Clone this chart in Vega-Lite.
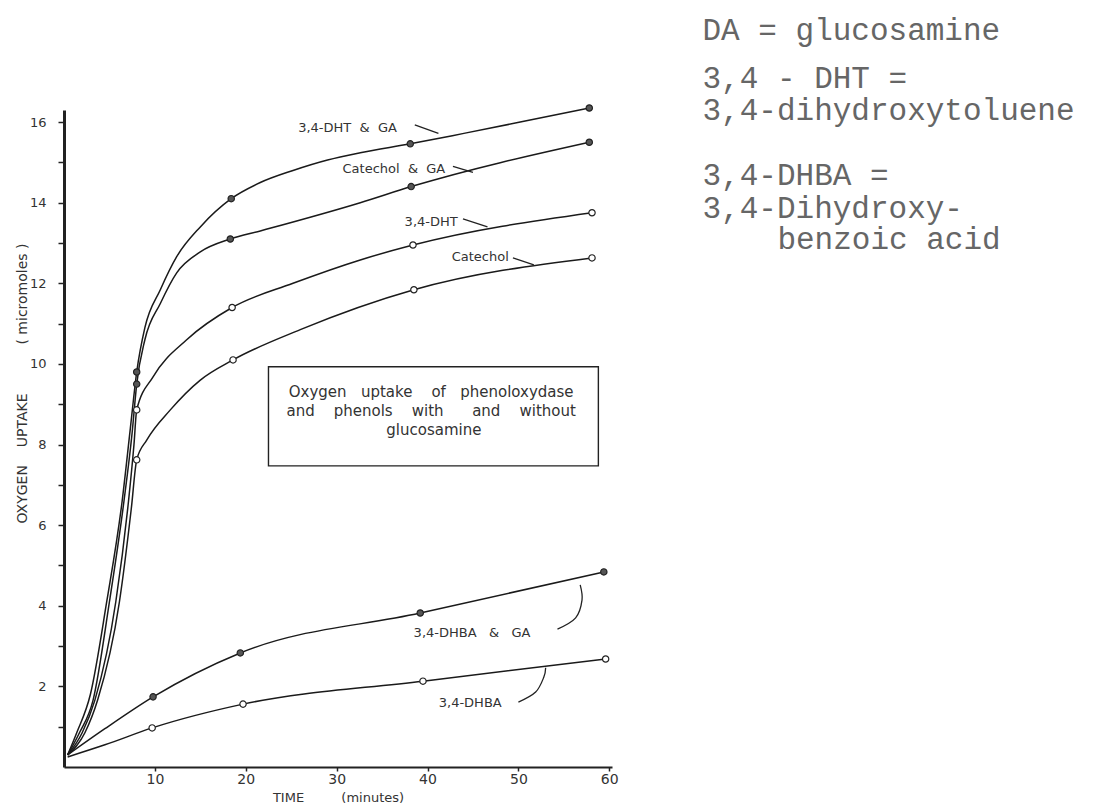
{
  "$schema": "https://vega.github.io/schema/vega-lite/v6.json",
  "width": 548,
  "height": 657,
  "autosize": {"type": "none"},
  "padding": {"left": 64, "top": 110, "right": 488, "bottom": 38},
  "background": "#ffffff",
  "config": {"view": {"stroke": null}, "axis": {"grid": false}},
  "datasets": {
    "curves": [
      {"s": "DHT_GA", "t": 0.4, "v": 0.3}, {"s": "DHT_GA", "t": 1.4, "v": 0.85}, {"s": "DHT_GA", "t": 2.9, "v": 1.8}, {"s": "DHT_GA", "t": 4.7, "v": 4.1}, {"s": "DHT_GA", "t": 6.4, "v": 6.6}, {"s": "DHT_GA", "t": 7.3, "v": 8.4}, {"s": "DHT_GA", "t": 8, "v": 9.8}, {"s": "DHT_GA", "t": 8.9, "v": 10.9}, {"s": "DHT_GA", "t": 10.6, "v": 11.84}, {"s": "DHT_GA", "t": 12.4, "v": 12.66}, {"s": "DHT_GA", "t": 15, "v": 13.4}, {"s": "DHT_GA", "t": 18.4, "v": 14.1}, {"s": "DHT_GA", "t": 21.6, "v": 14.5}, {"s": "DHT_GA", "t": 25.2, "v": 14.8}, {"s": "DHT_GA", "t": 29, "v": 15.06}, {"s": "DHT_GA", "t": 32.6, "v": 15.24}, {"s": "DHT_GA", "t": 38.1, "v": 15.46}, {"s": "DHT_GA", "t": 44, "v": 15.72}, {"s": "DHT_GA", "t": 50.2, "v": 16.0}, {"s": "DHT_GA", "t": 57.8, "v": 16.35},
      {"s": "CAT_GA", "t": 0.4, "v": 0.3}, {"s": "CAT_GA", "t": 1.7, "v": 0.85}, {"s": "CAT_GA", "t": 3.2, "v": 1.66}, {"s": "CAT_GA", "t": 5.0, "v": 4.1}, {"s": "CAT_GA", "t": 6.6, "v": 6.6}, {"s": "CAT_GA", "t": 7.5, "v": 8.3}, {"s": "CAT_GA", "t": 8, "v": 9.5}, {"s": "CAT_GA", "t": 8.9, "v": 10.6}, {"s": "CAT_GA", "t": 10.6, "v": 11.5}, {"s": "CAT_GA", "t": 12.4, "v": 12.26}, {"s": "CAT_GA", "t": 15, "v": 12.78}, {"s": "CAT_GA", "t": 18.3, "v": 13.1}, {"s": "CAT_GA", "t": 21.6, "v": 13.3}, {"s": "CAT_GA", "t": 32.6, "v": 14.0}, {"s": "CAT_GA", "t": 38.2, "v": 14.4}, {"s": "CAT_GA", "t": 57.8, "v": 15.5},
      {"s": "DHT", "t": 0.4, "v": 0.3}, {"s": "DHT", "t": 2.0, "v": 0.85}, {"s": "DHT", "t": 3.4, "v": 1.66}, {"s": "DHT", "t": 5.7, "v": 4.1}, {"s": "DHT", "t": 7.1, "v": 6.6}, {"s": "DHT", "t": 7.7, "v": 8.0}, {"s": "DHT", "t": 8, "v": 8.86}, {"s": "DHT", "t": 9.8, "v": 9.68}, {"s": "DHT", "t": 13.5, "v": 10.6}, {"s": "DHT", "t": 18.5, "v": 11.4}, {"s": "DHT", "t": 25.2, "v": 12.0}, {"s": "DHT", "t": 32.6, "v": 12.58}, {"s": "DHT", "t": 38.4, "v": 12.95}, {"s": "DHT", "t": 58.1, "v": 13.75},
      {"s": "CAT", "t": 0.4, "v": 0.3}, {"s": "CAT", "t": 2.3, "v": 0.85}, {"s": "CAT", "t": 3.7, "v": 1.66}, {"s": "CAT", "t": 6.1, "v": 4.1}, {"s": "CAT", "t": 7.4, "v": 6.4}, {"s": "CAT", "t": 8, "v": 7.62}, {"s": "CAT", "t": 9.1, "v": 8.11}, {"s": "CAT", "t": 11.7, "v": 8.86}, {"s": "CAT", "t": 15, "v": 9.6}, {"s": "CAT", "t": 18.6, "v": 10.1}, {"s": "CAT", "t": 26, "v": 10.85}, {"s": "CAT", "t": 38.5, "v": 11.84}, {"s": "CAT", "t": 58.1, "v": 12.63},
      {"s": "DHBA_GA", "t": 0.4, "v": 0.3}, {"s": "DHBA_GA", "t": 4.5, "v": 0.95}, {"s": "DHBA_GA", "t": 9.8, "v": 1.74}, {"s": "DHBA_GA", "t": 19.4, "v": 2.83}, {"s": "DHBA_GA", "t": 39.2, "v": 3.82}, {"s": "DHBA_GA", "t": 59.4, "v": 4.84},
      {"s": "DHBA", "t": 0.4, "v": 0.25}, {"s": "DHBA", "t": 4.5, "v": 0.55}, {"s": "DHBA", "t": 9.7, "v": 0.97}, {"s": "DHBA", "t": 19.7, "v": 1.56}, {"s": "DHBA", "t": 39.5, "v": 2.13}, {"s": "DHBA", "t": 59.6, "v": 2.68}
    ],
    "markers": [
      {"s": "DHT_GA", "k": "filled", "t": 8, "v": 9.8}, {"s": "DHT_GA", "k": "filled", "t": 18.4, "v": 14.1}, {"s": "DHT_GA", "k": "filled", "t": 38.1, "v": 15.46}, {"s": "DHT_GA", "k": "filled", "t": 57.8, "v": 16.35},
      {"s": "CAT_GA", "k": "filled", "t": 8, "v": 9.5}, {"s": "CAT_GA", "k": "filled", "t": 18.3, "v": 13.1}, {"s": "CAT_GA", "k": "filled", "t": 38.2, "v": 14.4}, {"s": "CAT_GA", "k": "filled", "t": 57.8, "v": 15.5},
      {"s": "DHT", "k": "open", "t": 8, "v": 8.86}, {"s": "DHT", "k": "open", "t": 18.5, "v": 11.4}, {"s": "DHT", "k": "open", "t": 38.4, "v": 12.95}, {"s": "DHT", "k": "open", "t": 58.1, "v": 13.75},
      {"s": "CAT", "k": "open", "t": 8, "v": 7.62}, {"s": "CAT", "k": "open", "t": 18.6, "v": 10.1}, {"s": "CAT", "k": "open", "t": 38.5, "v": 11.84}, {"s": "CAT", "k": "open", "t": 58.1, "v": 12.63},
      {"s": "DHBA_GA", "k": "filled", "t": 9.8, "v": 1.74}, {"s": "DHBA_GA", "k": "filled", "t": 19.4, "v": 2.83}, {"s": "DHBA_GA", "k": "filled", "t": 39.2, "v": 3.82}, {"s": "DHBA_GA", "k": "filled", "t": 59.4, "v": 4.84},
      {"s": "DHBA", "k": "open", "t": 9.7, "v": 0.97}, {"s": "DHBA", "k": "open", "t": 19.7, "v": 1.56}, {"s": "DHBA", "k": "open", "t": 39.5, "v": 2.13}, {"s": "DHBA", "k": "open", "t": 59.6, "v": 2.68}
    ],
    "arrows": [
      {"id": "a1", "o": 1, "t": 38.6, "v": 15.93}, {"id": "a1", "o": 2, "t": 41.2, "v": 15.72},
      {"id": "a2", "o": 1, "t": 42.8, "v": 14.9}, {"id": "a2", "o": 2, "t": 45.0, "v": 14.75},
      {"id": "a3", "o": 1, "t": 43.9, "v": 13.6}, {"id": "a3", "o": 2, "t": 46.6, "v": 13.4},
      {"id": "a4", "o": 1, "t": 49.4, "v": 12.63}, {"id": "a4", "o": 2, "t": 51.7, "v": 12.46},
      {"id": "a5", "o": 1, "t": 54.3, "v": 3.42}, {"id": "a5", "o": 2, "t": 56.3, "v": 3.7}, {"id": "a5", "o": 3, "t": 57.0, "v": 4.14}, {"id": "a5", "o": 4, "t": 56.8, "v": 4.52},
      {"id": "a6", "o": 1, "t": 50.0, "v": 1.61}, {"id": "a6", "o": 2, "t": 51.9, "v": 1.86}, {"id": "a6", "o": 3, "t": 52.8, "v": 2.23}, {"id": "a6", "o": 4, "t": 53.0, "v": 2.46}
    ],
    "labels": [
      {"label": "3,4-DHT\u00a0\u00a0&\u00a0\u00a0GA", "t": 31.2, "v": 15.86},
      {"label": "Catechol\u00a0\u00a0&\u00a0\u00a0GA", "t": 36.3, "v": 14.84},
      {"label": "3,4-DHT", "t": 40.4, "v": 13.52},
      {"label": "Catechol", "t": 45.8, "v": 12.66},
      {"label": "3,4-DHBA\u00a0\u00a0\u00a0&\u00a0\u00a0\u00a0GA", "t": 44.9, "v": 3.33},
      {"label": "3,4-DHBA", "t": 44.7, "v": 1.59}
    ],
    "boxtext": [
      {"label": "Oxygen\u00a0\u00a0\u00a0uptake\u00a0\u00a0\u00a0\u00a0of\u00a0\u00a0\u00a0phenoloxydase", "t": 40.4, "v": 9.3},
      {"label": "and\u00a0\u00a0\u00a0\u00a0phenols\u00a0\u00a0\u00a0\u00a0with\u00a0\u00a0\u00a0\u00a0\u00a0\u00a0and\u00a0\u00a0\u00a0\u00a0without", "t": 40.4, "v": 8.83},
      {"label": "glucosamine", "t": 40.7, "v": 8.36}
    ],
    "box": [{"t": 22.5, "t2": 58.8, "v": 9.93, "v2": 7.47}],
    "notes": [
      {"label": "DA = glucosamine", "t": 70.26, "v": 18.04},
      {"label": "3,4 - DHT =", "t": 70.26, "v": 16.85},
      {"label": "3,4-dihydroxytoluene", "t": 70.26, "v": 16.05},
      {"label": "3,4-DHBA =", "t": 70.26, "v": 14.45},
      {"label": "3,4-Dihydroxy-", "t": 70.26, "v": 13.63},
      {"label": "benzoic acid", "t": 78.5, "v": 12.86}
    ]
  },
  "layer": [
    {
      "data": {"name": "box"},
      "mark": {"type": "rect", "fill": "#ffffff", "stroke": "#222222", "strokeWidth": 1.4},
      "encoding": {
        "x": {"field": "t", "type": "quantitative", "scale": {"domain": [0, 60.3], "nice": false, "zero": false},
          "axis": {"values": [10, 20, 30, 40, 50, 60], "tickSize": 4, "tickColor": "#222", "tickWidth": 1.5, "domainColor": "#222", "domainWidth": 2, "labelFont": "DejaVu Sans", "labelFontSize": 14, "labelColor": "#333", "labelPadding": 1,
            "title": "TIME\u00a0\u00a0\u00a0\u00a0\u00a0\u00a0\u00a0\u00a0\u00a0(minutes)", "titleFont": "DejaVu Sans", "titleFontSize": 13, "titleFontWeight": "normal", "titleColor": "#333", "titlePadding": 5}},
        "x2": {"field": "t2"},
        "y": {"field": "v", "type": "quantitative", "scale": {"domain": [0, 16.3], "nice": false, "zero": false},
          "axis": {"values": [1, 2, 3, 4, 5, 6, 7, 8, 9, 10, 11, 12, 13, 14, 15, 16], "labelExpr": "datum.value % 2 == 0 ? datum.label : ''", "tickSize": 6, "tickColor": "#222", "tickWidth": 1.5, "domainColor": "#222", "domainWidth": 3, "labelFont": "DejaVu Sans", "labelFontSize": 13, "labelColor": "#333", "labelPadding": 12,
            "title": "OXYGEN\u00a0\u00a0\u00a0\u00a0UPTAKE\u00a0\u00a0\u00a0\u00a0\u00a0\u00a0\u00a0\u00a0\u00a0\u00a0\u00a0(\u00a0micromoles\u00a0)", "titleFont": "DejaVu Sans", "titleFontSize": 14, "titleFontWeight": "normal", "titleColor": "#333", "titleX": -42, "titleY": 273, "titleBaseline": "middle", "titleAngle": 270}},
        "y2": {"field": "v2"}
      }
    },
    {
      "data": {"name": "curves"},
      "mark": {"type": "line", "interpolate": "monotone", "color": "#1a1a1a", "strokeWidth": 1.5},
      "encoding": {
        "x": {"field": "t", "type": "quantitative"},
        "y": {"field": "v", "type": "quantitative"},
        "detail": {"field": "s"}
      }
    },
    {
      "data": {"name": "arrows"},
      "mark": {"type": "line", "interpolate": "cardinal", "color": "#222", "strokeWidth": 1.3},
      "encoding": {
        "x": {"field": "t", "type": "quantitative"},
        "y": {"field": "v", "type": "quantitative"},
        "detail": {"field": "id"},
        "order": {"field": "o"}
      }
    },
    {
      "data": {"name": "markers"},
      "mark": {"type": "point", "shape": "circle", "filled": true, "stroke": "#222", "strokeWidth": 1.2, "size": 40, "opacity": 1},
      "encoding": {
        "x": {"field": "t", "type": "quantitative"},
        "y": {"field": "v", "type": "quantitative"},
        "fill": {"field": "k", "type": "nominal", "scale": {"domain": ["filled", "open"], "range": ["#555555", "#ffffff"]}, "legend": null}
      }
    },
    {
      "data": {"name": "labels"},
      "mark": {"type": "text", "font": "DejaVu Sans", "fontSize": 13, "color": "#333", "align": "center", "baseline": "middle"},
      "encoding": {
        "x": {"field": "t", "type": "quantitative"},
        "y": {"field": "v", "type": "quantitative"},
        "text": {"field": "label"}
      }
    },
    {
      "data": {"name": "boxtext"},
      "mark": {"type": "text", "font": "DejaVu Sans", "fontSize": 15, "color": "#333", "align": "center", "baseline": "middle"},
      "encoding": {
        "x": {"field": "t", "type": "quantitative"},
        "y": {"field": "v", "type": "quantitative"},
        "text": {"field": "label"}
      }
    },
    {
      "data": {"name": "notes"},
      "mark": {"type": "text", "font": "Liberation Mono", "fontSize": 31, "color": "#666", "align": "left", "baseline": "alphabetic"},
      "encoding": {
        "x": {"field": "t", "type": "quantitative"},
        "y": {"field": "v", "type": "quantitative"},
        "text": {"field": "label"}
      }
    }
  ]
}
